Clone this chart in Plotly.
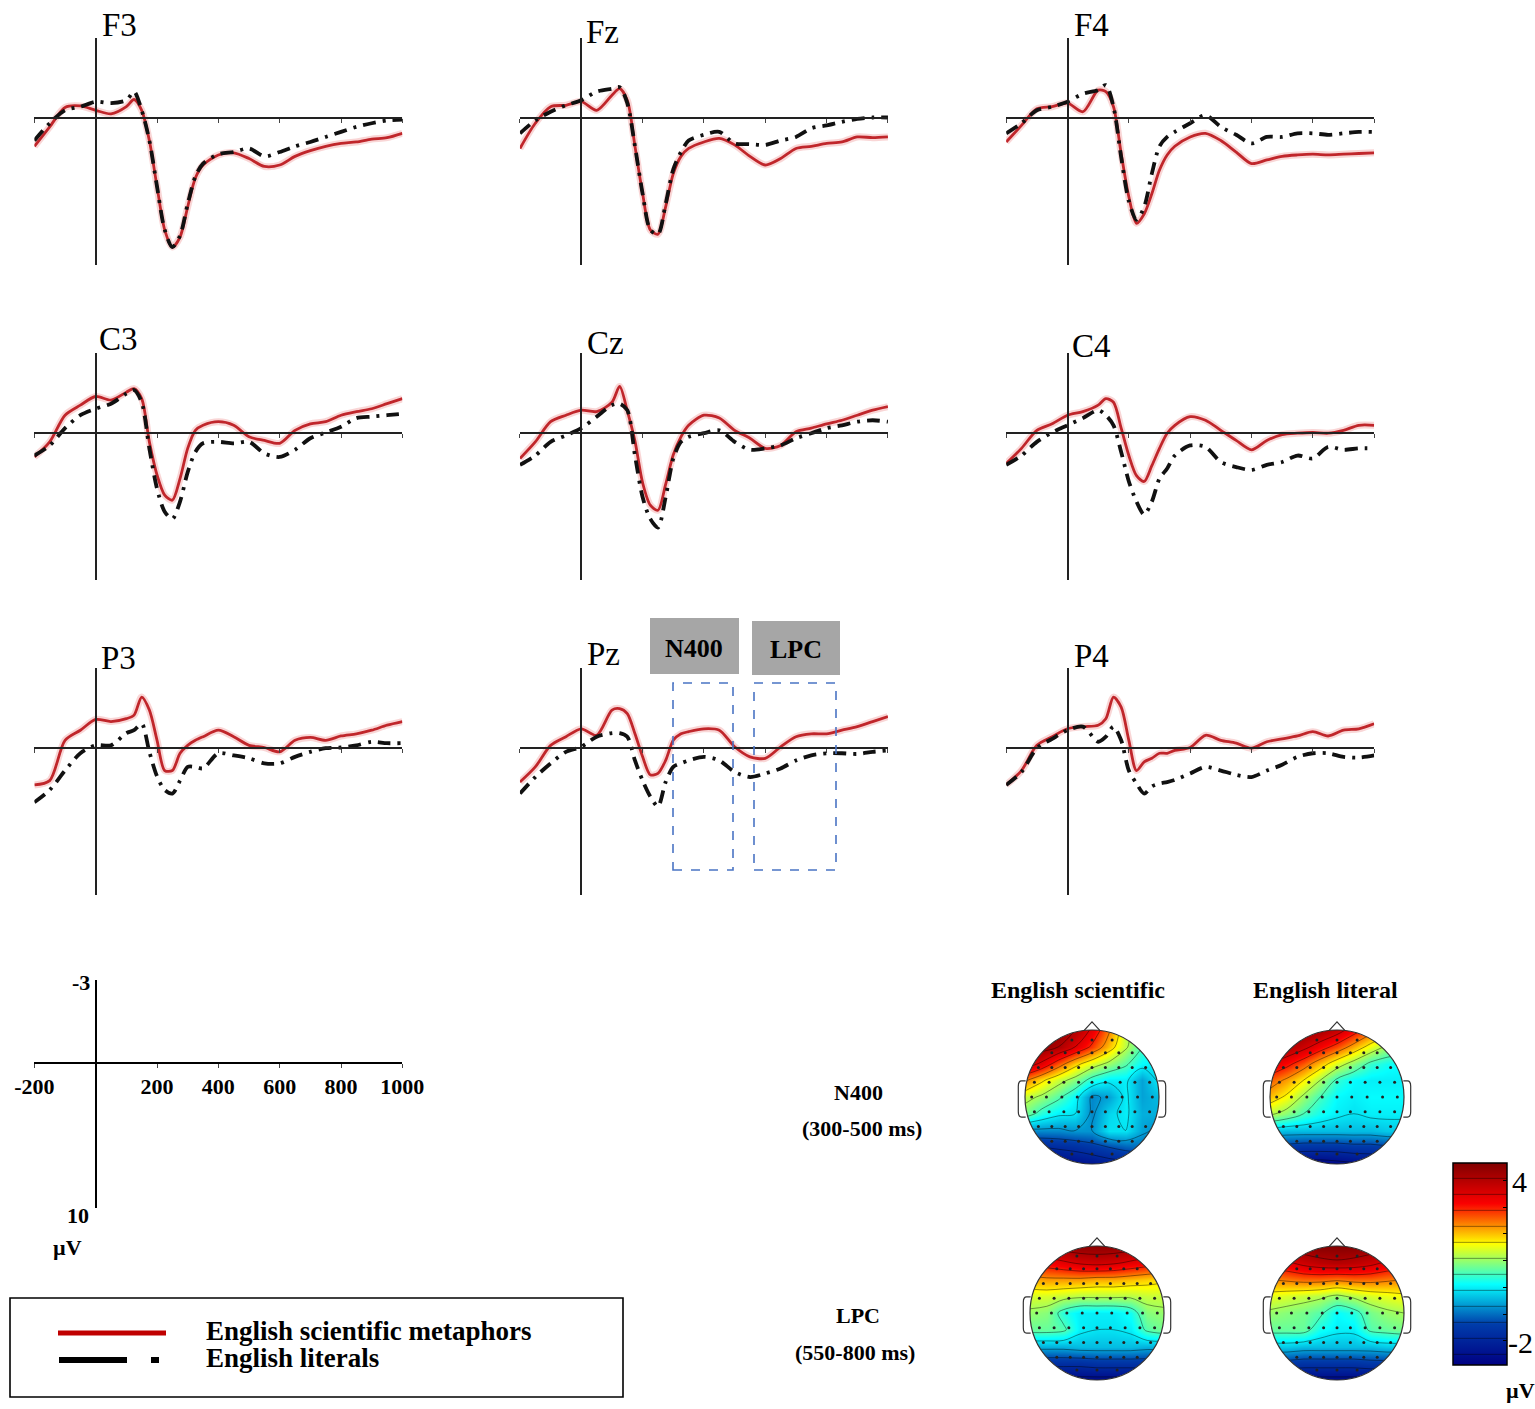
import math
import plotly.graph_objects as go

W, H = 1535, 1409
SERIF = "Liberation Serif"
RED = "#c0262b"
BLACK = "#111111"

# ERP waveforms (ms, µV; negative is plotted up)
times = [-200, -150, -100, -50, 0, 50, 100, 125, 150, 175, 200, 225, 250, 275, 300,
         325, 350, 400, 450, 500, 550, 600, 650, 700, 750, 800, 850, 900, 950, 1000]

f3_metaphor = [2.0, 0.65, -0.7, -0.8, -0.5, -0.25, -0.75, -1.25, -0.5, 1.6, 4.8, 7.8, 9.0, 8.3, 6.2,
               4.2, 3.3, 2.6, 2.45, 2.85, 3.4, 3.3, 2.7, 2.3, 2.0, 1.8, 1.7, 1.5, 1.4, 1.1]
f3_literal = [1.6, 0.4, -0.5, -0.75, -1.1, -1.0, -1.2, -1.8, -0.5, 1.6, 4.8, 7.8, 9.0, 8.2, 6.0,
              4.1, 3.2, 2.55, 2.4, 2.15, 2.7, 2.4, 2.0, 1.7, 1.35, 1.0, 0.65, 0.4, 0.2, 0.15]
fz_metaphor = [2.15, 0.4, -0.75, -0.85, -1.1, -0.5, -1.55, -2.0, -1.2, 2.0, 5.3, 7.8, 8.1, 6.2, 3.9,
               2.7, 2.15, 1.7, 1.45, 1.9, 2.7, 3.3, 2.85, 2.15, 2.0, 1.8, 1.7, 1.35, 1.4, 1.35]
fz_literal = [1.1, 0.2, -0.4, -0.85, -1.2, -1.8, -2.0, -2.1, -1.0, 2.0, 5.3, 7.8, 8.1, 6.0, 3.6,
              2.4, 1.6, 1.2, 1.0, 1.8, 1.85, 1.9, 1.6, 1.35, 0.75, 0.55, 0.3, 0.1, 0.0, 0.0]
f4_metaphor = [1.7, 0.55, -0.6, -0.75, -1.0, -0.4, -1.9, -1.8, -0.75, 2.5, 5.5, 7.35, 6.7, 5.3, 3.65,
               2.6, 2.0, 1.35, 1.1, 1.6, 2.4, 3.2, 2.95, 2.7, 2.6, 2.55, 2.6, 2.55, 2.5, 2.45]
f4_literal = [1.1, 0.4, -0.5, -0.75, -1.1, -1.65, -1.9, -2.25, -0.75, 2.75, 5.8, 7.1, 6.2, 3.9, 2.0,
              1.35, 1.0, 0.4, -0.15, 0.65, 1.2, 1.8, 1.35, 1.35, 1.1, 1.1, 1.2, 1.1, 1.0, 1.0]
c3_metaphor = [1.7, 0.65, -1.2, -1.9, -2.5, -2.25, -2.8, -3.05, -2.35, 0.65, 2.95, 4.35, 4.7, 3.2, 1.1,
               -0.15, -0.5, -0.75, -0.5, 0.3, 0.55, 0.75, -0.15, -0.6, -0.75, -1.2, -1.45, -1.65, -2.0, -2.35]
c3_literal = [1.6, 0.9, -0.3, -1.2, -1.65, -2.0, -2.7, -2.95, -2.1, 1.1, 3.9, 5.5, 6.0, 4.8, 2.75,
              1.35, 0.75, 0.65, 0.75, 0.65, 1.45, 1.7, 1.2, 0.4, 0.0, -0.4, -1.0, -1.1, -1.2, -1.3]
cz_metaphor = [1.8, 0.65, -0.75, -1.2, -1.55, -1.45, -2.1, -3.2, -1.5, 0.6, 3.5, 5.05, 5.4, 3.6, 1.55,
               0.3, -0.5, -1.2, -1.0, -0.15, 0.4, 1.1, 0.9, -0.05, -0.3, -0.6, -0.85, -1.2, -1.55, -1.8]
cz_literal = [2.25, 1.6, 0.65, 0.2, -0.3, -1.1, -1.9, -2.0, -1.55, 1.6, 4.5, 6.0, 6.6, 4.5, 1.8,
              0.65, 0.3, 0.05, -0.15, 0.65, 1.2, 1.1, 0.9, 0.4, 0.05, -0.3, -0.5, -0.75, -0.85, -0.75]
c4_metaphor = [2.15, 1.1, -0.15, -0.6, -1.2, -1.45, -1.9, -2.35, -2.1, -0.3, 1.6, 3.0, 3.4, 2.3, 1.1,
               0.05, -0.5, -1.1, -0.85, -0.15, 0.55, 1.2, 0.55, 0.15, 0.05, 0.0, 0.05, -0.15, -0.5, -0.5]
c4_literal = [2.25, 1.6, 0.65, 0.0, -0.5, -1.0, -1.55, -1.2, -0.5, 1.35, 3.4, 4.8, 5.7, 4.8, 3.2,
              2.5, 1.6, 0.9, 1.0, 2.05, 2.4, 2.6, 2.25, 2.05, 1.6, 1.8, 1.0, 1.2, 1.1, 1.1]
p3_metaphor = [2.6, 2.3, -0.5, -1.2, -1.95, -1.8, -2.0, -2.25, -3.5, -2.6, -0.5, 1.6, 1.6, 0.4, -0.15,
               -0.5, -0.75, -1.2, -0.75, -0.15, 0.0, 0.3, -0.5, -0.7, -0.5, -0.8, -0.95, -1.2, -1.55, -1.8]
p3_literal = [3.8, 2.95, 1.6, 0.4, -0.15, -0.15, -1.0, -1.2, -1.65, 0.3, 2.0, 2.95, 3.2, 2.3, 1.35,
              1.35, 1.45, 0.4, 0.55, 0.75, 1.1, 1.1, 0.65, 0.3, 0.05, 0.0, -0.15, -0.4, -0.3, -0.3]
pz_metaphor = [2.4, 1.35, -0.15, -0.75, -1.3, -0.85, -2.6, -2.7, -2.35, -0.95, 0.65, 1.9, 1.8, 0.9, -0.5,
               -0.95, -1.1, -1.3, -1.2, -0.05, 0.65, 0.75, -0.05, -0.75, -0.95, -0.95, -1.2, -1.45, -1.8, -2.15]
pz_literal = [3.2, 2.05, 1.1, 0.3, -0.05, -0.75, -1.0, -1.0, -0.75, 0.9, 2.3, 3.4, 4.1, 2.4, 1.35,
              1.1, 0.9, 0.65, 0.9, 1.7, 2.05, 1.8, 1.45, 0.9, 0.55, 0.4, 0.4, 0.45, 0.3, 0.2]
p4_metaphor = [2.6, 1.6, -0.15, -0.75, -1.3, -1.45, -1.55, -2.0, -3.5, -2.8, -0.5, 1.6, 1.0, 0.75, 0.4,
               0.4, 0.2, 0.0, -0.85, -0.5, -0.3, 0.05, -0.4, -0.6, -0.8, -1.1, -0.8, -1.2, -1.3, -1.65]
p4_literal = [2.6, 1.7, 0.05, -0.6, -1.2, -1.45, -0.4, -0.75, -1.45, -0.5, 1.6, 2.5, 3.2, 2.7, 2.5,
              2.4, 2.25, 1.8, 1.35, 1.6, 1.9, 2.05, 1.6, 1.2, 0.65, 0.4, 0.4, 0.65, 0.7, 0.55]

channels = ["F3", "Fz", "F4", "C3", "Cz", "C4", "P3", "Pz", "P4"]
metaphor_series = [f3_metaphor, fz_metaphor, f4_metaphor, c3_metaphor, cz_metaphor,
                   c4_metaphor, p3_metaphor, pz_metaphor, p4_metaphor]
literal_series = [f3_literal, fz_literal, f4_literal, c3_literal, cz_literal,
                  c4_literal, p3_literal, pz_literal, p4_literal]

scale_ticks = [-200, 200, 400, 600, 800, 1000]
scale_labels = ["-200", "200", "400", "600", "800", "1000"]

# topographic maps: rows run front (top) to back, columns left to right
topo_x = [-1, -0.75, -0.5, -0.25, 0, 0.25, 0.5, 0.75, 1]
topo_y = [1, 0.75, 0.5, 0.25, 0, -0.25, -0.5, -0.75, -1]

n400_scientific = [
    [4.5, 4.5, 4.4, 4.1, 3.4, 2.4, 1.3, 0.6, 0.3],
    [4.5, 4.4, 4.1, 3.5, 2.8, 2.0, 1.2, 0.5, 0.1],
    [3.9, 3.4, 2.6, 1.9, 1.4, 1.0, 0.6, 0.1, 0.0],
    [2.4, 1.8, 1.3, 0.9, 0.3, 0.0, 0.0, -0.6, 0.0],
    [1.3, 1.0, 0.6, 0.1, -0.8, -0.6, 0.0, -0.6, -0.4],
    [0.8, 0.3, 0.0, -0.1, -0.8, -0.2, 0.0, -0.5, -0.5],
    [-0.8, -0.8, -0.8, -0.7, -0.7, -0.1, -0.1, -0.6, -0.8],
    [-1.9, -1.9, -1.8, -1.7, -1.5, -1.3, -1.1, -1.0, -1.1],
    [-2.7, -2.7, -2.6, -2.5, -2.4, -2.2, -2.1, -2.0, -2.0],
]
n400_literal = [
    [4.5, 4.5, 4.4, 4.2, 3.8, 3.2, 2.6, 2.1, 1.8],
    [4.3, 4.1, 3.7, 3.2, 2.7, 2.1, 1.5, 1.0, 0.8],
    [3.5, 3.1, 2.6, 2.0, 1.4, 0.9, 0.4, 0.2, 0.1],
    [2.6, 2.2, 1.7, 1.1, 0.4, 0.1, 0.0, 0.0, 0.0],
    [2.0, 1.6, 1.0, 0.5, 0.1, 0.0, 0.1, 0.1, 0.1],
    [1.2, 0.9, 0.5, 0.2, 0.0, -0.1, 0.0, 0.0, 0.0],
    [-0.3, -0.4, -0.4, -0.4, -0.4, -0.4, -0.4, -0.3, -0.3],
    [-1.5, -1.5, -1.6, -1.6, -1.6, -1.5, -1.5, -1.4, -1.4],
    [-2.7, -2.8, -2.8, -2.8, -2.7, -2.6, -2.5, -2.4, -2.4],
]
lpc_scientific = [
    [4.0, 4.2, 4.4, 4.5, 4.5, 4.5, 4.4, 4.2, 4.0],
    [3.1, 3.2, 3.4, 3.6, 3.7, 3.6, 3.4, 3.2, 3.0],
    [2.1, 2.2, 2.2, 2.2, 2.1, 2.1, 2.0, 1.9, 1.8],
    [1.4, 1.4, 1.3, 1.2, 1.2, 1.2, 1.2, 1.3, 1.3],
    [1.0, 0.9, 0.3, 0.0, 0.0, 0.0, 0.2, 0.9, 1.0],
    [0.7, 0.7, 0.6, 0.0, -0.1, -0.1, 0.0, 0.6, 0.8],
    [-0.5, -0.5, -0.5, -0.4, -0.4, -0.4, -0.4, -0.5, -0.5],
    [-1.7, -1.7, -1.7, -1.7, -1.6, -1.6, -1.6, -1.6, -1.6],
    [-2.7, -2.7, -2.7, -2.7, -2.7, -2.7, -2.7, -2.7, -2.7],
]
lpc_literal = [
    [4.2, 4.4, 4.5, 4.6, 4.6, 4.6, 4.5, 4.4, 4.2],
    [3.3, 3.4, 3.7, 3.9, 4.0, 3.9, 3.7, 3.4, 3.3],
    [2.3, 2.4, 2.5, 2.5, 2.4, 2.5, 2.5, 2.4, 2.3],
    [1.5, 1.4, 1.3, 1.2, 1.0, 1.2, 1.4, 1.5, 1.6],
    [1.0, 0.9, 0.8, 0.6, 0.1, 0.3, 0.8, 1.0, 1.1],
    [0.7, 0.7, 0.7, 0.2, 0.0, 0.0, 0.6, 0.7, 0.8],
    [-0.3, -0.3, -0.4, -0.4, -0.4, -0.4, -0.4, -0.3, -0.3],
    [-1.5, -1.5, -1.6, -1.6, -1.6, -1.6, -1.5, -1.5, -1.5],
    [-2.7, -2.7, -2.7, -2.7, -2.7, -2.7, -2.7, -2.7, -2.7],
]

electrode_row_y = [0.85, 0.66, 0.44, 0.22, 0.0, -0.22, -0.44, -0.66, -0.85]
electrode_row_x = [
    [-0.3, 0.0, 0.3],
    [-0.6, -0.4, -0.2, 0.0, 0.2, 0.4, 0.6],
    [-0.8, -0.6, -0.4, -0.2, 0.0, 0.2, 0.4, 0.6, 0.8],
    [-0.86, -0.64, -0.42, -0.2, 0.0, 0.2, 0.42, 0.64, 0.86],
    [-0.9, -0.68, -0.45, -0.22, 0.0, 0.22, 0.45, 0.68, 0.9],
    [-0.86, -0.64, -0.42, -0.2, 0.0, 0.2, 0.42, 0.64, 0.86],
    [-0.8, -0.6, -0.4, -0.2, 0.0, 0.2, 0.4, 0.6, 0.8],
    [-0.6, -0.4, -0.2, 0.0, 0.2, 0.4, 0.6],
    [-0.3, 0.0, 0.3],
]

colorbar_ticks = [-2, -1, 0, 1, 2, 3, 4]


def px(x):
    return x / W


def py(y):
    return 1 - y / H


def font(size, bold=False):
    return dict(family=SERIF, size=size, color="black", weight="bold" if bold else "normal")


def text(x, y, s, size, bold=False, xanchor="center"):
    return dict(x=px(x), y=py(y), xref="paper", yref="paper", text=s, showarrow=False,
                xanchor=xanchor, yanchor="middle", font=font(size, bold))


def erp_axes(x0, z0, ticklabels=False):
    # x0: pixel of time zero, z0: pixel of the 0 µV line
    ms = 368 / 1200
    uv = 14.4
    xa = dict(domain=[px(x0 - 200 * ms), px(x0 + 1000 * ms)], range=[-200, 1000],
              anchor="free", position=py(z0), showgrid=False, zeroline=False,
              showline=True, linecolor="#222", linewidth=2, ticks="outside", ticklen=4,
              tickcolor="#444", tickvals=scale_ticks, ticktext=scale_labels,
              showticklabels=ticklabels, tickfont=font(22, True), automargin=False)
    ya = dict(domain=[py(z0 + 147), py(z0 - 80)], range=[147 / uv, -80 / uv],
              anchor="free", position=px(x0), showgrid=False, zeroline=False,
              showline=True, linecolor="#222", linewidth=2, ticks="", showticklabels=False,
              automargin=False)
    return xa, ya


def circle_points(r, n=90):
    return [(r * math.cos(2 * math.pi * k / n), r * math.sin(2 * math.pi * k / n)) for k in range(n)]


def head_shapes(ax):
    xr, yr = "x" + ax, "y" + ax
    e = 1.27
    hole = " ".join(("M" if k == 0 else "L") + f"{x:.4f},{y:.4f}"
                    for k, (x, y) in enumerate(circle_points(1.0)))
    mask = dict(type="path", xref=xr, yref=yr, layer="above", fillcolor="white",
                fillrule="evenodd", line=dict(width=0),
                path=f"M{-e},{-e} L{e},{-e} L{e},{e} L{-e},{e} Z {hole} Z")
    outline = dict(type="circle", xref=xr, yref=yr, x0=-1, x1=1, y0=-1, y1=1,
                   layer="above", line=dict(color="#333", width=1.2))
    nose = dict(type="path", xref=xr, yref=yr, layer="above", line=dict(color="#333", width=1.2),
                path="M-0.12,0.99 L0,1.12 L0.12,0.99")
    ears = []
    for s in (-1, 1):
        ears.append(dict(type="path", xref=xr, yref=yr, layer="above",
                         line=dict(color="#333", width=1.2),
                         path=f"M{s*0.99},0.24 L{s*1.05},0.24 Q{s*1.1},0.24 {s*1.1},0.16 "
                              f"L{s*1.1},-0.22 Q{s*1.1},-0.3 {s*1.05},-0.3 L{s*0.99},-0.3"))
    return [mask, outline, nose] + ears


fig = go.Figure()
axes = {}
shapes = []
annotations = []

col_zero_x = [95.7, 581.3, 1067.5]
row_zero_y = [117.5, 432.5, 747.5]
label_xy = [(100, 25), (584, 32), (1072, 25), (97, 339), (585, 343), (1070, 346),
            (99, 658), (585, 654), (1072, 656)]

for i, ch in enumerate(channels):
    r, c = divmod(i, 3)
    n = "" if i == 0 else str(i + 1)
    xa, ya = erp_axes(col_zero_x[c], row_zero_y[r])
    axes["xaxis" + n] = xa
    axes["yaxis" + n] = ya
    fig.add_trace(go.Scatter(x=times, y=metaphor_series[i], xaxis="x" + n, yaxis="y" + n,
                             mode="lines", line=dict(color="rgba(230,90,90,0.25)", width=7,
                                                     shape="spline", smoothing=0.8),
                             hoverinfo="skip"))
    fig.add_trace(go.Scatter(x=times, y=metaphor_series[i], xaxis="x" + n, yaxis="y" + n,
                             mode="lines", name="English scientific metaphors",
                             line=dict(color=RED, width=2.8, shape="spline", smoothing=0.8)))
    fig.add_trace(go.Scatter(x=times, y=literal_series[i], xaxis="x" + n, yaxis="y" + n,
                             mode="lines", name="English literals",
                             line=dict(color=BLACK, width=3.8, dash="13px,7px,3px,7px",
                                       shape="spline", smoothing=0.8)))
    lx, ly = label_xy[i]
    annotations.append(text(lx, ly, ch, 33, xanchor="left"))

# calibration axes
xa, ya = erp_axes(95.7, 1063, ticklabels=True)
ya["range"] = [145 / 14.4, -83 / 14.4]
ya["domain"] = [py(1063 + 145), py(1063 - 83)]
xa["linecolor"] = "black"
ya["linecolor"] = "black"
axes["xaxis10"] = xa
axes["yaxis10"] = ya
fig.add_trace(go.Scatter(x=scale_ticks, y=[0] * len(scale_ticks), xaxis="x10", yaxis="y10",
                         mode="lines", line=dict(color="black", width=0), hoverinfo="skip"))
annotations += [text(92, 982, "-3", 22, True, "right"), text(91, 1215, "10", 22, True, "right"),
                text(67, 1247, "µV", 22, True)]

# N400 / LPC windows on Pz
shapes += [
    dict(type="rect", xref="paper", yref="paper", x0=px(650), x1=px(739), y0=py(674), y1=py(618),
         fillcolor="#a6a6a6", line=dict(width=0)),
    dict(type="rect", xref="paper", yref="paper", x0=px(752), x1=px(840), y0=py(675), y1=py(621),
         fillcolor="#a6a6a6", line=dict(width=0)),
    dict(type="rect", xref="paper", yref="paper", x0=px(673), x1=px(733), y0=py(870), y1=py(683),
         line=dict(color="#4a74c4", width=1.6, dash="dash")),
    dict(type="rect", xref="paper", yref="paper", x0=px(754), x1=px(836), y0=py(870), y1=py(683),
         line=dict(color="#4a74c4", width=1.6, dash="dash")),
]
annotations += [text(694, 648, "N400", 26, True), text(796, 650, "LPC", 26, True)]

# legend box
shapes += [
    dict(type="rect", xref="paper", yref="paper", x0=px(10), x1=px(623), y0=py(1397), y1=py(1298),
         line=dict(color="black", width=1.6)),
    dict(type="line", xref="paper", yref="paper", x0=px(58), x1=px(166), y0=py(1333), y1=py(1333),
         line=dict(color="#c00000", width=5)),
    dict(type="line", xref="paper", yref="paper", x0=px(59), x1=px(127), y0=py(1360), y1=py(1360),
         line=dict(color="black", width=6)),
    dict(type="line", xref="paper", yref="paper", x0=px(151), x1=px(159), y0=py(1360), y1=py(1360),
         line=dict(color="black", width=6)),
]
annotations += [text(204, 1331, "English scientific metaphors", 27, True, "left"),
                text(204, 1358, "English literals", 27, True, "left")]

# topographic maps
elec_x = [x for row in electrode_row_x for x in row]
elec_y = [y for y, row in zip(electrode_row_y, electrode_row_x) for _ in row]
topo_maps = [(n400_scientific, 1092, 1097), (n400_literal, 1337, 1097),
             (lpc_scientific, 1097, 1313), (lpc_literal, 1337, 1313)]
for k, (grid, cx, cy) in enumerate(topo_maps):
    n = str(11 + k)
    half = 1.27 * 67
    axes["xaxis" + n] = dict(domain=[px(cx - half), px(cx + half)], range=[-1.27, 1.27],
                             anchor="y" + n, visible=False)
    axes["yaxis" + n] = dict(domain=[py(cy + half), py(cy - half)], range=[-1.27, 1.27],
                             anchor="x" + n, visible=False)
    fig.add_trace(go.Contour(
        x=topo_x, y=topo_y[::-1], z=grid[::-1], xaxis="x" + n, yaxis="y" + n,
        colorscale="Jet", zmin=-2.9, zmax=4.65, autocontour=False,
        contours=dict(start=-2.5, end=4.5, size=0.6, coloring="heatmap", showlines=True),
        line=dict(color="rgba(0,0,0,0.6)", width=0.7, smoothing=1.0),
        showscale=(k == 0), hoverinfo="skip",
        colorbar=dict(x=px(1453), xanchor="left", y=py(1264), yanchor="middle",
                      len=202, lenmode="pixels", thickness=54, thicknessmode="pixels",
                      outlinecolor="black", outlinewidth=1.5, xpad=0, ypad=0,
                      tickvals=colorbar_ticks, ticks="inside", ticklen=4, tickcolor="black",
                      showticklabels=False)))
    fig.add_trace(go.Scatter(x=elec_x, y=elec_y, xaxis="x" + n, yaxis="y" + n, mode="markers",
                             marker=dict(color="#222", size=3), hoverinfo="skip"))
    shapes += head_shapes(n)

annotations += [text(1078, 990, "English scientific", 24, True),
                text(1325, 990, "English literal", 24, True),
                text(858, 1092, "N400", 22, True), text(862, 1128, "(300-500 ms)", 22, True),
                text(858, 1315, "LPC", 22, True), text(855, 1352, "(550-800 ms)", 22, True),
                text(1510, 1181, "4", 30, xanchor="left"),
                text(1506, 1342, "-2", 30, xanchor="left"),
                text(1520, 1390, "µV", 22, True)]

fig.update_layout(width=W, height=H,
                  margin=dict(l=0, r=0, t=0, b=0, pad=0, autoexpand=False),
                  paper_bgcolor="white", plot_bgcolor="white", showlegend=False,
                  shapes=shapes, annotations=annotations, **axes)

fig.write_html("out.html", config={"displayModeBar": False},
               post_script="document.body.style.margin = '0px';")
